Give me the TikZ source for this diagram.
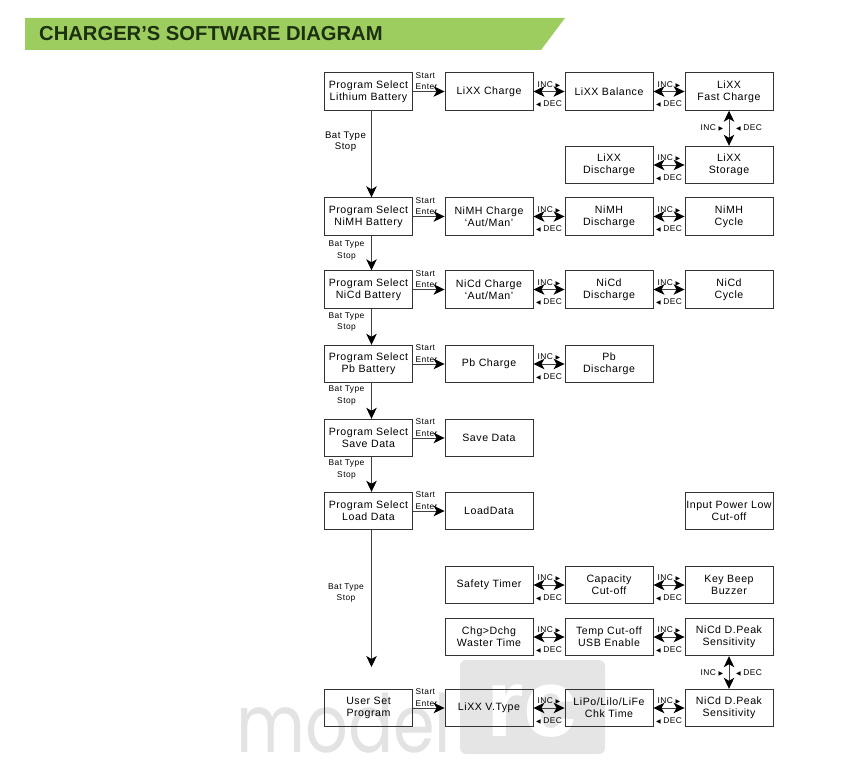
\documentclass[tikz,border=0pt]{standalone}
\usepackage{fontspec}
\usepackage{xcolor}
\setmainfont{Liberation Sans}[LetterSpace=5]
\newfontfamily\titlefont{Liberation Sans}
\newfontfamily\markfont{Poppins}
\newfontfamily\symfont{DejaVu Sans}
\usetikzlibrary{arrows.meta}
\definecolor{bannergreen}{RGB}{157,205,95}
\definecolor{titleink}{RGB}{28,48,18}
\newcommand{\incmark}{INC {\symfont\fontsize{6}{6}\selectfont\char"25B6}}
\newcommand{\decmark}{{\symfont\fontsize{6}{6}\selectfont\char"25C0} DEC}
\tikzset{
    screen/.style={
    draw=black!80,
    line width=0.9pt,
    minimum width=88pt,
    minimum height=37.5pt,
    inner sep=0pt,
    align=center,
    font=\fontsize{10.6}{12}\selectfont,
  },
  keytext/.style={
    inner sep=0pt,
    align=center,
    font=\fontsize{8.4}{11.5}\selectfont,
  },
  keyline/.style={
    draw=black!75,
    line width=0.9pt,
    >={Stealth[black,length=11pt,width=10.5pt,inset=3pt]},
  }
}
\begin{document}
\begin{tikzpicture}[x=1pt,y=-1pt]
    \useasboundingbox (0,0) rectangle (850,775);

    \fill [bannergreen] (25,18) -- (565,18) -- (541,50) -- (25,50) -- cycle;
    \node [anchor=west,inner sep=0pt,text=titleink,font=\titlefont\bfseries\fontsize{20.2}{22}\selectfont] (title) at (39,33.5) {CHARGER’S SOFTWARE DIAGRAM};

    \fill [black!10,rounded corners=6pt] (460,660) rectangle (605,754);
    \node [anchor=base west,inner sep=0pt,text=black!11,yscale=1.2,transform shape,font=\markfont\fontsize{67}{67}\selectfont] (markname) at (236,752) {model};
    \node [anchor=base,inner sep=0pt,text=white,font=\titlefont\bfseries\fontsize{96}{96}\selectfont] (markrc) at (532,736) {rc};

    \begin{scope}[every node/.style={screen}]
        \node (lithium) at (368.5,91.5) {Program Select\\Lithium Battery};
        \node (lixxcharge) at (489,91.5) {LiXX Charge};
        \node (lixxbalance) at (609,91.5) {LiXX Balance};
        \node (lixxfast) at (729,91.5) {LiXX\\Fast Charge};
        \node (lixxdis) at (609,165) {LiXX\\Discharge};
        \node (lixxstore) at (729,165) {LiXX\\Storage};

        \node (nimh) at (368.5,216.5) {Program Select\\NiMH Battery};
        \node (nimhcharge) at (489,216.5) {NiMH Charge\\‘Aut/Man’};
        \node (nimhdis) at (609,216.5) {NiMH\\Discharge};
        \node (nimhcycle) at (729,216.5) {NiMH\\Cycle};

        \node (nicd) at (368.5,289.5) {Program Select\\NiCd Battery};
        \node (nicdcharge) at (489,289.5) {NiCd Charge\\‘Aut/Man’};
        \node (nicddis) at (609,289.5) {NiCd\\Discharge};
        \node (nicdcycle) at (729,289.5) {NiCd\\Cycle};

        \node (pb) at (368.5,364) {Program Select\\Pb Battery};
        \node (pbcharge) at (489,364) {Pb Charge};
        \node (pbdis) at (609,364) {Pb\\Discharge};

        \node (save) at (368.5,438) {Program Select\\Save Data};
        \node (savedata) at (489,438) {Save Data};

        \node (load) at (368.5,511) {Program Select\\Load Data};
        \node (loaddata) at (489,511) {LoadData};
        \node (inputlow) at (729,511) {Input Power Low\\Cut-off};

        \node (safety) at (489,585) {Safety Timer};
        \node (capacity) at (609,585) {Capacity\\Cut-off};
        \node (keybeep) at (729,585) {Key Beep\\Buzzer};

        \node (waster) at (489,637) {Chg>Dchg\\Waster Time};
        \node (tempcut) at (609,637) {Temp Cut-off\\USB Enable};
        \node (peakup) at (729,637) {NiCd D.Peak\\Sensitivity};

        \node (userset) at (368.5,708) {User Set\\Program};
        \node (vtype) at (489,708) {LiXX V.Type};
        \node (chktime) at (609,708) {LiPo/Lilo/LiFe\\Chk Time};
        \node (peakdown) at (729,708) {NiCd D.Peak\\Sensitivity};
    \end{scope}

    \coordinate (userstop) at (371.5,667);

    \begin{scope}[keyline]
        \foreach \from/\to in {lithium/nimh,nimh/nicd,nicd/pb,pb/save,save/load}
            \path [draw,->] (\from.south -| userstop) -- (\to.north -| userstop);
        \path [draw,->] (load.south -| userstop) -- (userstop);

        \foreach \from/\to in {lithium/lixxcharge,nimh/nimhcharge,nicd/nicdcharge,pb/pbcharge,save/savedata,load/loaddata,userset/vtype}
            \path [draw,->] (\from) -- (\to);

        \foreach \from/\to in {lixxcharge/lixxbalance,lixxbalance/lixxfast,lixxdis/lixxstore,nimhcharge/nimhdis,nimhdis/nimhcycle,nicdcharge/nicddis,nicddis/nicdcycle,pbcharge/pbdis,safety/capacity,capacity/keybeep,waster/tempcut,tempcut/peakup,vtype/chktime,chktime/peakdown}
        {
            \path [draw,<->] (\from) -- (\to);
            \path (\from.east) -- (\to.west) node [midway,yshift=7pt,keytext] (inc\from) {\incmark}
                                             node [midway,yshift=-12.5pt,keytext] (dec\from) {\decmark};
        }

        \path [draw,<->] (lixxfast) -- (lixxstore);
        \path [draw,<->] (peakup) -- (peakdown);
    \end{scope}

    \begin{scope}[every node/.style={keytext}]
        \foreach \from in {lithium,nimh,nicd,pb,save,load,userset}
            \node [anchor=south west,xshift=2.5pt,yshift=1.5pt,align=left] (key\from) at (\from.east) {Start\\Enter};
        \node [font=\fontsize{9.6}{11.5}\selectfont] (typea) at (345.5,141.5) {Bat Type\\Stop};
        \node (typeb) at (346.5,250.5) {Bat Type\\Stop};
        \node (typec) at (346.5,322) {Bat Type\\Stop};
        \node (typed) at (346.5,395.5) {Bat Type\\Stop};
        \node (typee) at (346.5,469.5) {Bat Type\\Stop};
        \node (typef) at (346,593) {Bat Type\\Stop};
        \node (vinca) at (712,128) {\incmark};
        \node (vdeca) at (749,128) {\decmark};
        \node (vincb) at (712,673) {\incmark};
        \node (vdecb) at (749,673) {\decmark};
    \end{scope}
\end{tikzpicture}
\end{document}
